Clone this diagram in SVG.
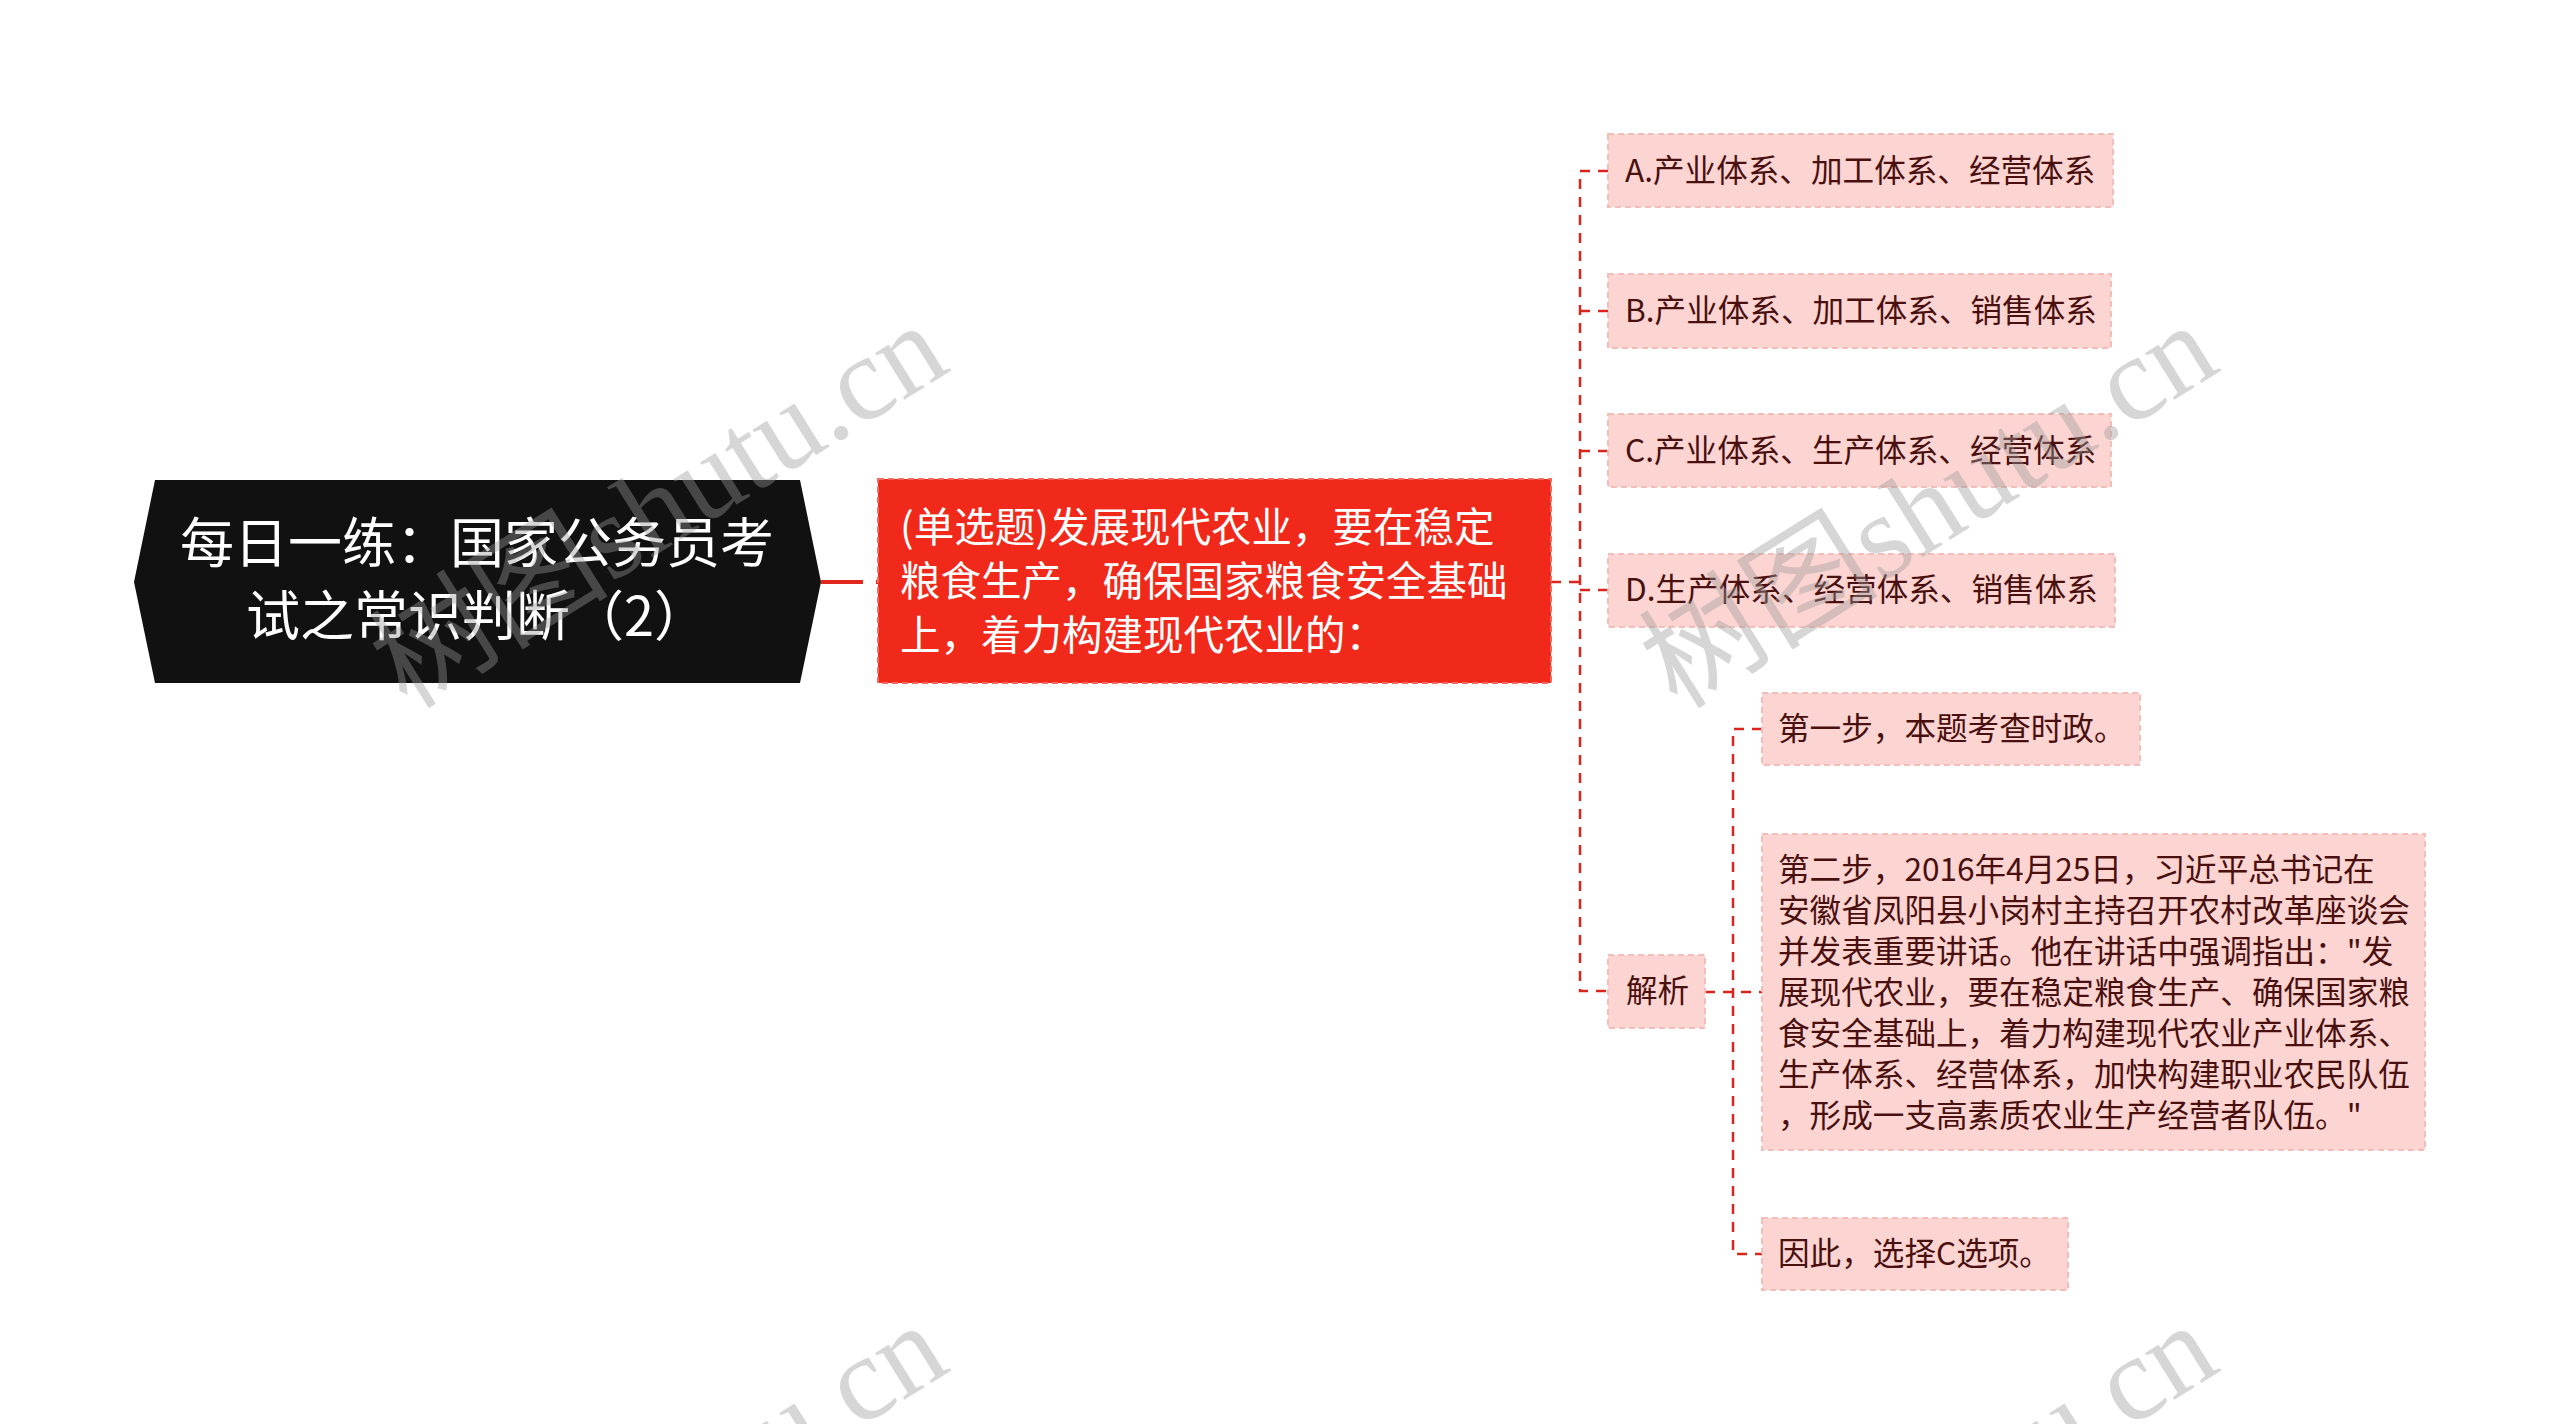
<svg xmlns="http://www.w3.org/2000/svg" width="2560" height="1424" viewBox="0 0 2560 1424">
<style>
.conn{fill:none;stroke:#D9251D;stroke-width:2.5;stroke-dasharray:10 8}
.opt{fill:#FCD5D2;stroke:#F4BDB9;stroke-width:2;stroke-dasharray:6 4}
.optText{font-family:"Noto Sans CJK SC","Noto Sans",sans-serif;font-size:31.6px;fill:#4A1010}
.rootText{font-family:"Noto Sans CJK SC","Noto Sans",sans-serif;font-size:54px;fill:#FFFFFF;text-anchor:middle}
.qText{font-family:"Noto Sans CJK SC","Noto Sans",sans-serif;font-size:40.5px;fill:#FFFFFF}
.wm{font-family:"Liberation Serif","Noto Sans CJK SC",serif;font-size:120px;fill:#999999;fill-opacity:0.4;text-anchor:middle}
</style>
<rect x="0" y="0" width="2560" height="1424" fill="#FFFFFF"/>

<g id="connectors">
<path d="M821,582 H878" fill="none" stroke="#E0281E" stroke-width="4" stroke-dasharray="42 13"/>
<path class="conn" d="M1551,582 H1580"/>
<path class="conn" d="M1608,171 H1580 V991 H1608"/>
<path class="conn" d="M1580,311 H1608"/>
<path class="conn" d="M1580,451 H1608"/>
<path class="conn" d="M1580,590 H1608"/>
<path class="conn" d="M1705,992 H1762"/>
<path class="conn" d="M1762,729 H1733 V1254 H1762"/>
</g>

<g id="root">
<polygon points="134,582 155,480 800,480 821,582 800,683 155,683" fill="#111111"/>
<text class="rootText" x="477" y="563">每日一练：国家公务员考</text>
<text class="rootText" x="477" y="636">试之常识判断（2）</text>
</g>

<g id="question">
<rect x="878" y="479" width="673" height="204" fill="#F0291B" stroke="#F66A5E" stroke-width="2" stroke-dasharray="6 4"/>
<text class="qText" x="900" y="542">(单选题)发展现代农业，要在稳定</text>
<text class="qText" x="900" y="596">粮食生产，确保国家粮食安全基础</text>
<text class="qText" x="900" y="650">上，着力构建现代农业的：</text>
</g>

<g id="optA">
<rect class="opt" x="1608" y="134" width="505" height="73"/>
<text class="optText" x="1625" y="182">A.产业体系、加工体系、经营体系</text>
</g>
<g id="optB">
<rect class="opt" x="1608" y="274" width="503" height="74"/>
<text class="optText" x="1625" y="322">B.产业体系、加工体系、销售体系</text>
</g>
<g id="optC">
<rect class="opt" x="1608" y="414" width="503" height="73"/>
<text class="optText" x="1625" y="462">C.产业体系、生产体系、经营体系</text>
</g>
<g id="optD">
<rect class="opt" x="1608" y="554" width="507" height="73"/>
<text class="optText" x="1625" y="601">D.生产体系、经营体系、销售体系</text>
</g>

<g id="analysis">
<rect class="opt" x="1608" y="955" width="97" height="73"/>
<text class="optText" x="1626" y="1002">解析</text>
</g>

<g id="step1">
<rect class="opt" x="1762" y="693" width="378" height="72"/>
<text class="optText" x="1778" y="740">第一步，本题考查时政。</text>
</g>

<g id="step2">
<rect class="opt" x="1762" y="834" width="663" height="316"/>
<text class="optText" x="1778" y="881">第二步，2016年4月25日，习近平总书记在</text>
<text class="optText" x="1778" y="922">安徽省凤阳县小岗村主持召开农村改革座谈会</text>
<text class="optText" x="1778" y="963">并发表重要讲话。他在讲话中强调指出："发</text>
<text class="optText" x="1778" y="1004">展现代农业，要在稳定粮食生产、确保国家粮</text>
<text class="optText" x="1778" y="1045">食安全基础上，着力构建现代农业产业体系、</text>
<text class="optText" x="1778" y="1086">生产体系、经营体系，加快构建职业农民队伍</text>
<text class="optText" x="1778" y="1127">，形成一支高素质农业生产经营者队伍。"</text>
</g>

<g id="step3">
<rect class="opt" x="1762" y="1218" width="306" height="72"/>
<text class="optText" x="1778" y="1265">因此，选择C选项。</text>
</g>

<g id="watermarks">
<text class="wm" transform="translate(680,540) rotate(-32)">树图shutu.cn</text>
<text class="wm" transform="translate(1950,540) rotate(-32)">树图shutu.cn</text>
<text class="wm" transform="translate(680,1540) rotate(-32)">树图shutu.cn</text>
<text class="wm" transform="translate(1950,1540) rotate(-32)">树图shutu.cn</text>
</g>
</svg>
